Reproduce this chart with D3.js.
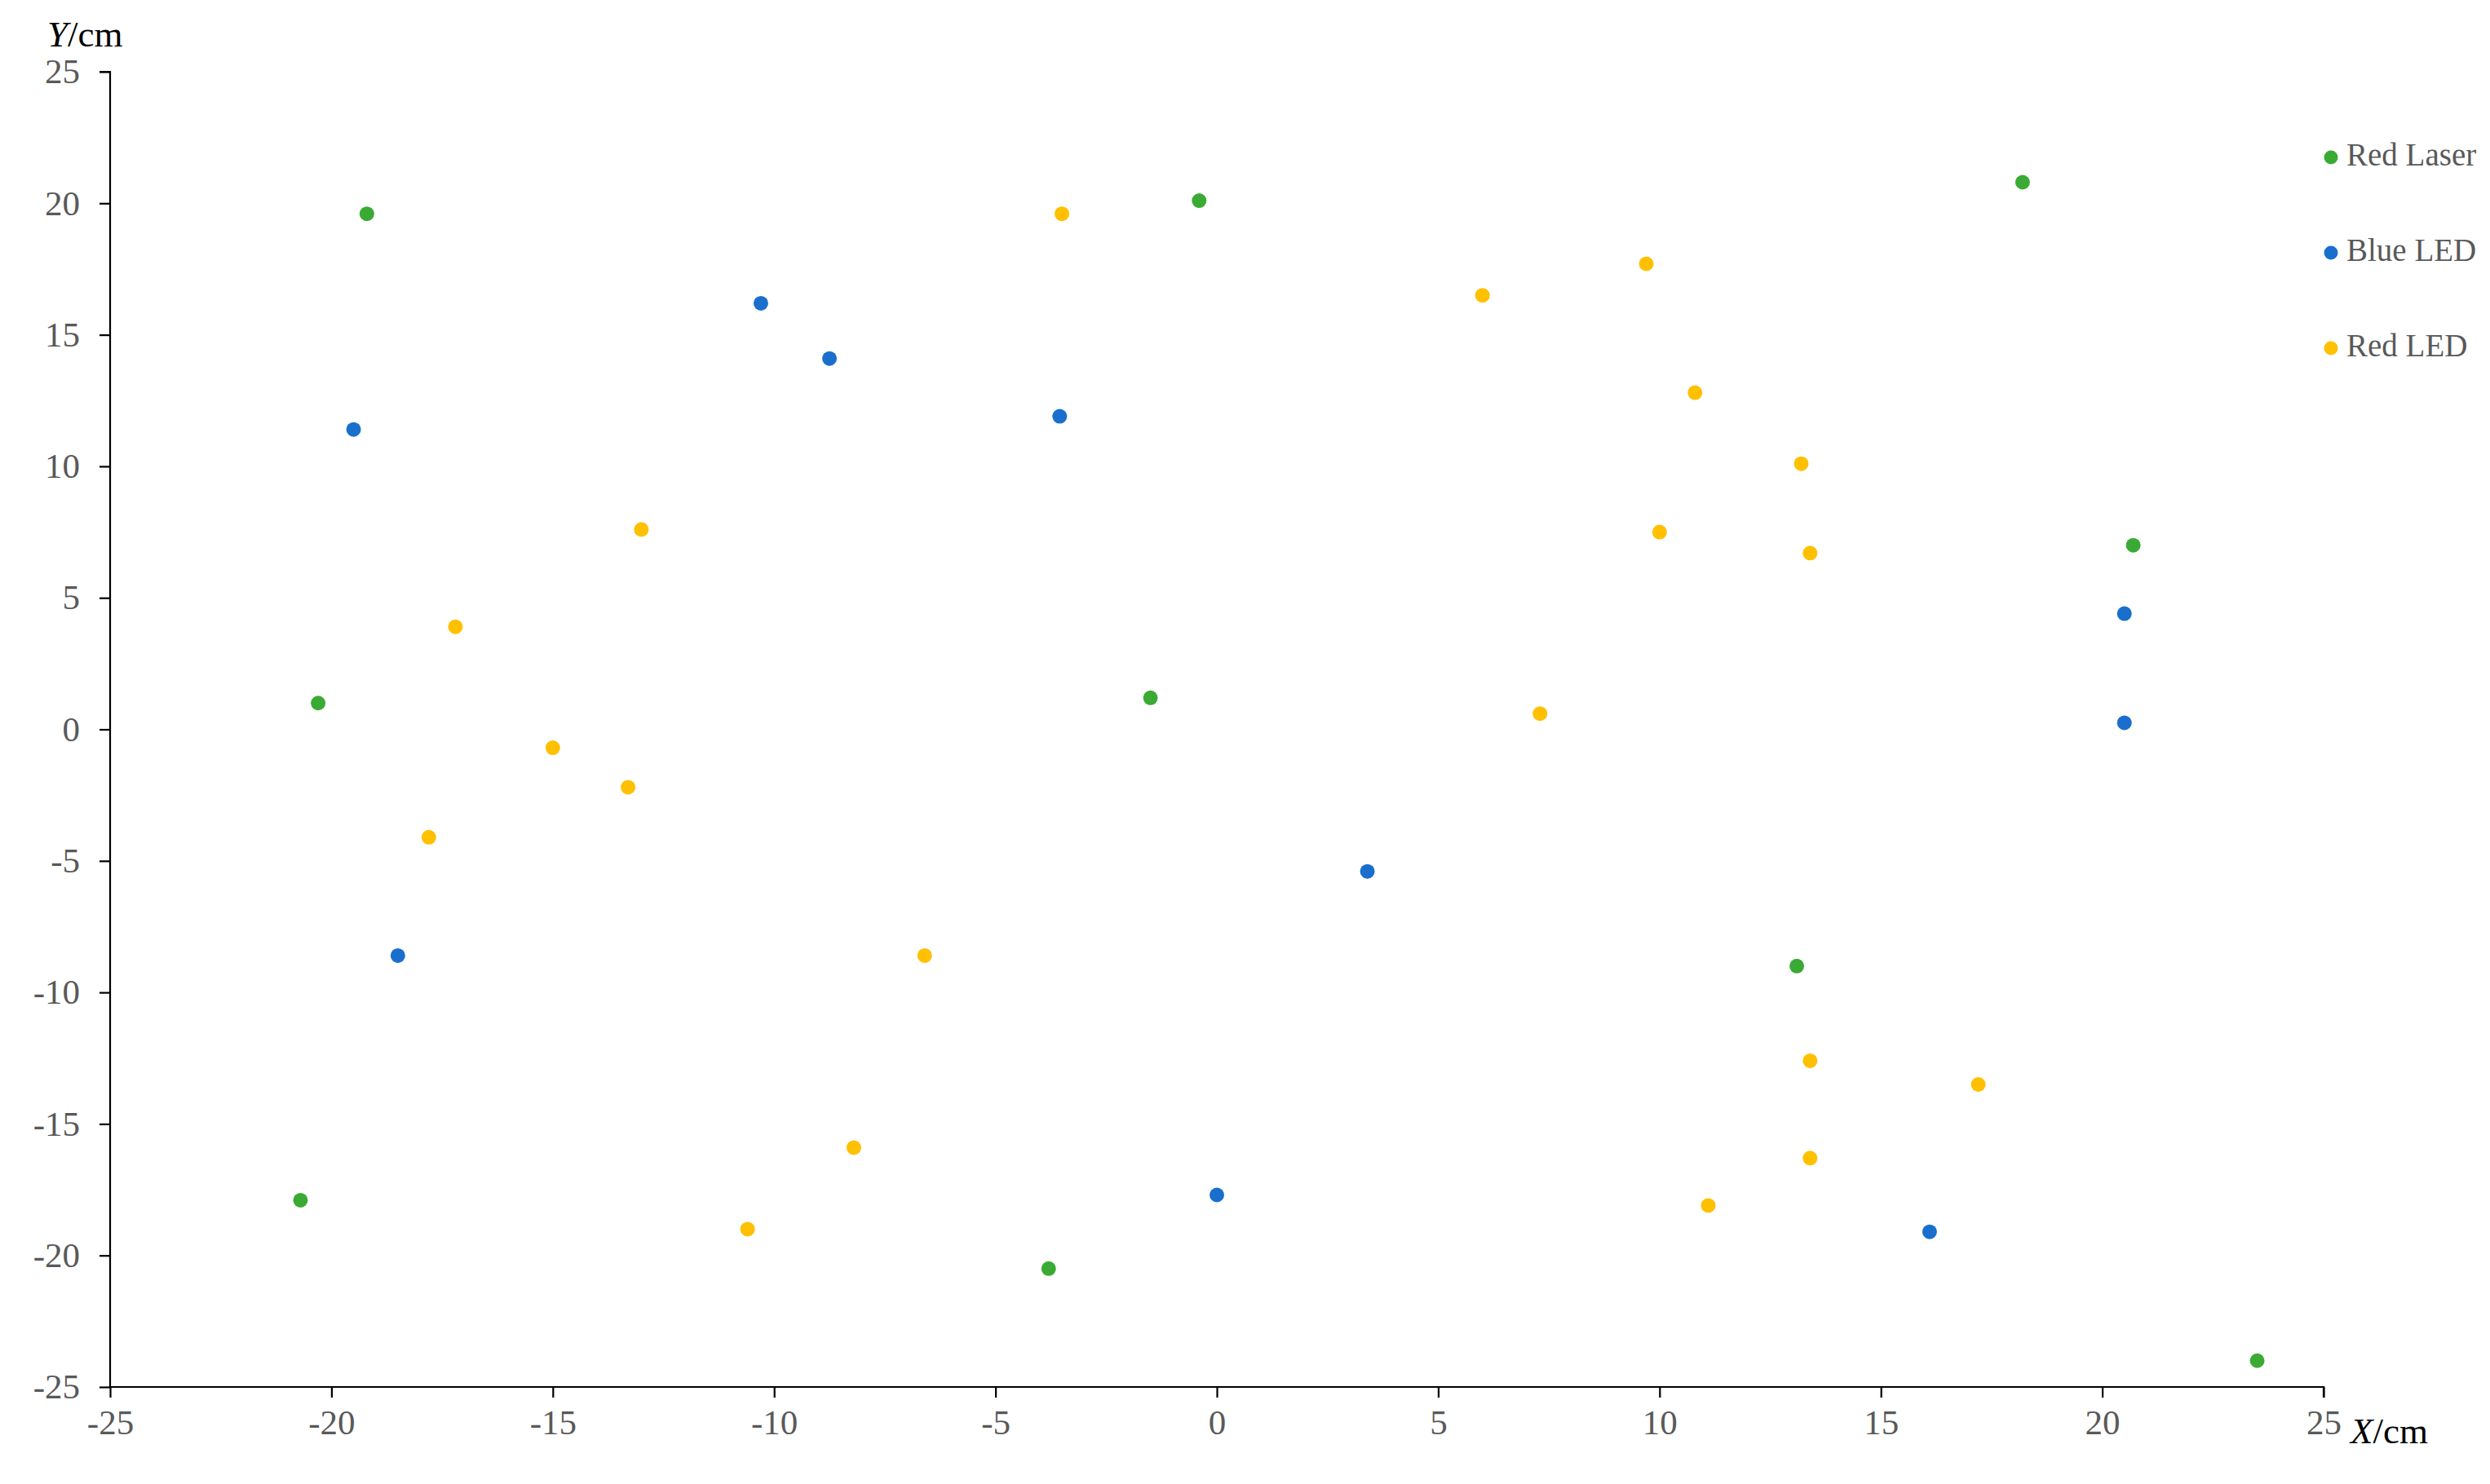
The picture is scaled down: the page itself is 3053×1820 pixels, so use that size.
<!DOCTYPE html>
<html>
<head>
<meta charset="utf-8">
<script src="https://cdn.jsdelivr.net/npm/d3@7"></script>
<style>
  html, body { margin: 0; padding: 0; background: #fff; }
  svg { display: block; }
</style>
</head>
<body>
<svg id="chart" width="3053" height="1820"></svg>
<script>
const seriesNames = ["Red Laser", "Blue LED", "Red LED"];
const seriesColors = ["#3BAA35", "#1A6FCC", "#FFC000"];

const redLaserX = [-19.2, -0.4, 18.2, 20.7, -20.3, -1.5, 13.1, -20.7, -3.8, 23.5];
const redLaserY = [19.6, 20.1, 20.8, 7.0, 1.0, 1.2, -9.0, -17.9, -20.5, -24.0];

const blueLedX = [-10.3, -8.75, -19.5, -3.55, 20.5, 20.5, 3.4, -18.5, 0.0, 16.1];
const blueLedY = [16.2, 14.1, 11.4, 11.9, 4.4, 0.25, -5.4, -8.6, -17.7, -19.1];

const redLedX = [-3.5, 6.0, 9.7, 10.8, 13.2, 10.0, 13.4, -13.0, -17.2, -15.0, -13.3, 7.3, -17.8, -6.6, 13.4, 17.2, -8.2, 13.4, -10.6, 11.1];
const redLedY = [19.6, 16.5, 17.7, 12.8, 10.1, 7.5, 6.7, 7.6, 3.9, -0.7, -2.2, 0.6, -4.1, -8.6, -12.6, -13.5, -15.9, -16.3, -19.0, -18.1];

const xTicks = [-25, -20, -15, -10, -5, 0, 5, 10, 15, 20, 25];
const yTicks = [-25, -20, -15, -10, -5, 0, 5, 10, 15, 20, 25];

const series = [
  { name: seriesNames[0], color: seriesColors[0], xs: redLaserX, ys: redLaserY },
  { name: seriesNames[1], color: seriesColors[1], xs: blueLedX, ys: blueLedY },
  { name: seriesNames[2], color: seriesColors[2], xs: redLedX, ys: redLedY }
];

const svg = d3.select("#chart");
const font = "'Liberation Serif', 'Times New Roman', serif";
const fmt = d => String(d);

const x = d3.scaleLinear().domain([-25, 25]).range([135, 2849]);
const y = d3.scaleLinear().domain([-25, 25]).range([1701, 88]);

// X axis
const xAxis = svg.append("g")
  .attr("transform", `translate(0,${y(-25)})`)
  .call(d3.axisBottom(x).tickValues(xTicks).tickSize(13).tickPadding(14).tickFormat(fmt));
xAxis.select(".domain").attr("stroke", "#000").attr("stroke-width", 2.2)
  .attr("d", `M${x(-25)},0H${x(25)}V13`);
xAxis.selectAll(".tick line").attr("stroke", "#000").attr("stroke-width", 2.2);
xAxis.selectAll(".tick text")
  .attr("font-family", font).attr("font-size", 43).attr("fill", "#595959");

// Y axis
const yAxis = svg.append("g")
  .attr("transform", `translate(${x(-25)},0)`)
  .call(d3.axisLeft(y).tickValues(yTicks).tickSize(13).tickPadding(24).tickFormat(fmt));
yAxis.select(".domain").attr("stroke", "#000").attr("stroke-width", 2.2)
  .attr("d", `M-13,${y(25)}H0V${y(-25)}`);
yAxis.selectAll(".tick line").attr("stroke", "#000").attr("stroke-width", 2.2);
yAxis.selectAll(".tick text")
  .attr("font-family", font).attr("font-size", 43).attr("fill", "#595959");

// Axis titles
const yt = svg.append("text")
  .attr("x", 58).attr("y", 57)
  .attr("font-family", font).attr("font-size", 45).attr("fill", "#000");
yt.append("tspan").attr("font-style", "italic").text("Y");
yt.append("tspan").text("/cm");

const xt = svg.append("text")
  .attr("x", 2882).attr("y", 1770)
  .attr("font-family", font).attr("font-size", 45).attr("fill", "#000");
xt.append("tspan").attr("font-style", "italic").text("X");
xt.append("tspan").text("/cm");

// Points
series.forEach(s => {
  svg.append("g").selectAll("circle")
    .data(s.xs.map((v, i) => [v, s.ys[i]]))
    .join("circle")
    .attr("cx", d => x(d[0]))
    .attr("cy", d => y(d[1]))
    .attr("r", 9)
    .attr("fill", s.color);
});

// Legend
const legend = svg.append("g");
series.forEach((s, i) => {
  const cy = 193 + i * 117;
  legend.append("circle").attr("cx", 2858).attr("cy", cy).attr("r", 8.5).attr("fill", s.color);
  legend.append("text")
    .attr("x", 2877).attr("y", cy + 10)
    .attr("font-family", font).attr("font-size", 39).attr("fill", "#595959")
    .text(s.name);
});
</script>
</body>
</html>
